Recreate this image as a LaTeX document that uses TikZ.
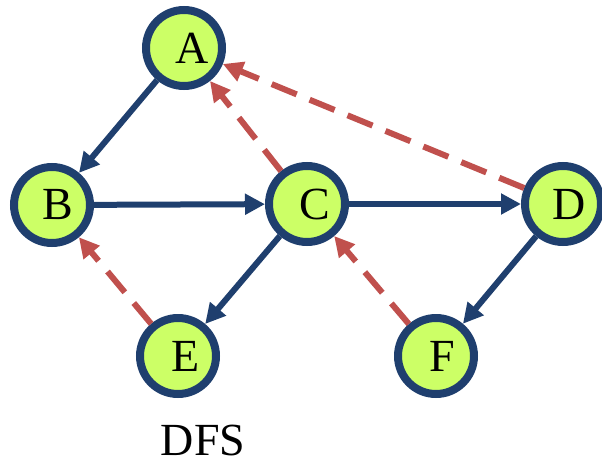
\documentclass[tikz,border=0pt]{standalone}
\usepackage{fontspec}
\setmainfont{Liberation Serif}
\usetikzlibrary{arrows.meta}

\definecolor{vfill}{HTML}{CCFF66}
\definecolor{vline}{HTML}{1F3F6E}
\definecolor{backred}{HTML}{C0504D}

\begin{document}
\begin{tikzpicture}[x=1pt,y=-1pt,
  vert/.style={circle, draw=vline, fill=vfill, line width=8pt, minimum size=76pt, inner sep=0pt},
  tree/.style={draw=vline, line width=6pt, -{Triangle[length=20pt,width=20pt]}},
  back/.style={draw=backred, line width=6pt, dash pattern=on 27pt off 14pt, -{Triangle[length=20pt,width=20pt]}}]
  % fix the margins
  \useasboundingbox (0,0) rectangle (602,466);

  \node[vert, label={[xshift=8pt,font=\fontsize{46}{46}\selectfont]center:A}] (a) at (184,48) {};
  \node[vert, label={[xshift=6pt,font=\fontsize{46}{46}\selectfont]center:B}] (b) at (52,205) {};
  \node[vert, label={[xshift=8pt,font=\fontsize{46}{46}\selectfont]center:C}] (c) at (307,204) {};
  \node[vert, label={[xshift=6pt,font=\fontsize{46}{46}\selectfont]center:D}] (d) at (563,204) {};
  \node[vert, label={[xshift=8pt,font=\fontsize{46}{46}\selectfont]center:E}] (e) at (178,356) {};
  \node[vert, label={[xshift=6pt,font=\fontsize{46}{46}\selectfont]center:F}] (f) at (436,356) {};

  % tree edges
  \draw[tree] (a) -- (b);
  \draw[tree] (b) -- (c);
  \draw[tree] (c) -- (d);
  \draw[tree] (c) -- (e);
  \draw[tree] (d) -- (f);

  % back edges
  \draw[back] (c) -- (a);
  \draw[back] (d) -- (a);
  \draw[back] (e) -- (b);
  \draw[back] (f) -- (c);

  \node[font=\fontsize{46}{46}\selectfont] (dfs) at (203,440) {DFS};
\end{tikzpicture}
\end{document}
